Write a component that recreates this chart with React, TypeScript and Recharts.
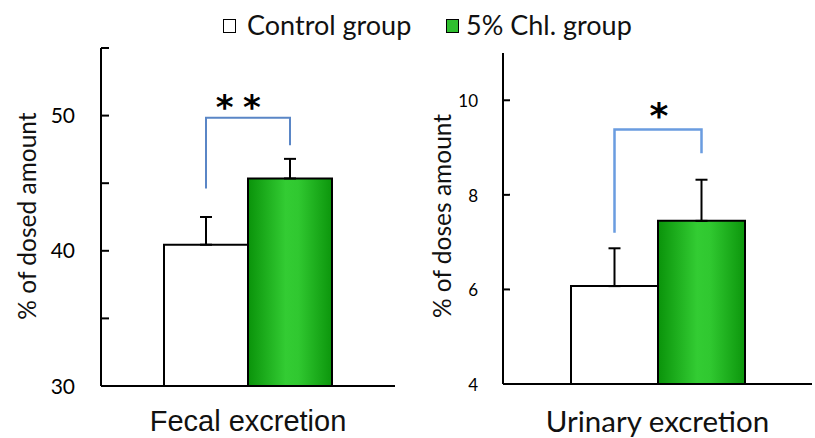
import React from 'react';
import { Bar, BarChart, ErrorBar, LabelList, XAxis, YAxis } from 'recharts';

// group names (legend)
const groups = ['Control group', '5% Chl. group'];

// fecal excretion panel
const fecalCategory = 'Fecal excretion';
const fecalMeans = [40.45, 45.35];
const fecalErrors = [2.05, 1.45];
const fecalDomain = [30, 55];
const fecalTicks = [30, 35, 40, 45, 50, 55];
const fecalLabelled = [30, 40, 50];
const fecalBracket = [44.6, 49.85, 47.8];
const fecalStarLevel = 49.76;
const fecalStars = '**';

// urinary excretion panel
const urinaryCategory = 'Urinary excretion';
const urinaryMeans = [6.07, 7.45];
const urinaryErrors = [0.8, 0.87];
const urinaryDomain = [4, 11];
const urinaryTicks = [4, 6, 8, 10];
const urinaryLabelled = [4, 6, 8, 10];
const urinaryBracket = [7.2, 9.38, 8.88];
const urinaryStarLevel = 9.42;
const urinaryStars = '*';

const LATO = 'Lato, sans-serif';
const ARIAL = '"Liberation Sans", Arial, sans-serif';

const toRow = (name: string, means: number[], errs: number[]) => [
  {
    name,
    control: means[0],
    chl: means[1],
    controlErr: [0, errs[0]],
    chlErr: [0, errs[1]],
  },
];

const makeTick =
  (lo: number, labelled: number[], tickLen: number, gap: number, fontSize: number, dy: number) =>
  (props: any) => {
    const { x, y, payload } = props;
    const v = payload.value;
    return (
      <g>
        {v !== lo && <line x1={x} x2={x + tickLen} y1={y} y2={y} stroke="#000" strokeWidth={2} />}
        {labelled.includes(v) && (
          <text x={x - gap} y={y + dy} textAnchor="end" fontFamily={LATO} fontSize={fontSize} fill="#000">
            {v}
          </text>
        )}
      </g>
    );
  };

// bracket + stars drawn from the green bar's own geometry
const makeBracket =
  (
    means: number[],
    lo: number,
    bracket: number[],
    starLevel: number,
    stars: string,
    color: string,
    sw: number,
    starSize: number,
    spacing: number,
    dx: number
  ) =>
  (props: any) => {
    const vb = props.viewBox ?? props;
    const { x, y, width, height } = vb;
    if (height == null || width == null) return null;
    const base = y + height;
    const k = height / (means[1] - lo);
    const py = (v: number) => base - (v - lo) * k;
    const xl = x - width / 2;
    const xr = x + width / 2;
    return (
      <g>
        <polyline
          points={`${xl},${py(bracket[0])} ${xl},${py(bracket[1])} ${xr},${py(bracket[1])} ${xr},${py(bracket[2])}`}
          fill="none"
          stroke={color}
          strokeWidth={sw}
        />
        <text
          x={(xl + xr) / 2 + dx}
          y={py(starLevel)}
          textAnchor="middle"
          fontFamily='"DejaVu Sans", sans-serif'
          fontWeight="bold"
          fontSize={starSize}
          letterSpacing={spacing}
          fill="#000"
        >
          {stars}
        </text>
      </g>
    );
  };

const GreenGradient = ({ id }: { id: string }) => (
  <defs>
    <linearGradient id={id} x1="0" y1="0" x2="1" y2="0">
      <stop offset="0%" stopColor="#0a930a" />
      <stop offset="45%" stopColor="#33cc33" />
      <stop offset="60%" stopColor="#30c830" />
      <stop offset="100%" stopColor="#0c960c" />
    </linearGradient>
  </defs>
);

const fecalData = toRow(fecalCategory, fecalMeans, fecalErrors);
const urinaryData = toRow(urinaryCategory, urinaryMeans, urinaryErrors);

const legendText: React.CSSProperties = {
  position: 'absolute',
  top: 10.5,
  fontFamily: LATO,
  fontSize: 27,
  lineHeight: '27px',
  whiteSpace: 'nowrap',
  color: '#111',
};

const App = () => {
  return (
    <div style={{ position: 'absolute', left: 0, top: 0, width: 815, height: 438, background: '#fff' }}>
      {/* legend */}
      <div style={{ position: 'absolute', left: 222.5, top: 19, width: 11, height: 12, border: '1.5px solid #000', background: '#fff' }} />
      <span style={{ ...legendText, left: 247 }}>{groups[0]}</span>
      <div style={{ position: 'absolute', left: 446, top: 19, width: 11, height: 12, border: '1.5px solid #000', background: '#2fbf2f' }} />
      <span style={{ ...legendText, left: 466 }}>{groups[1]}</span>

      {/* fecal panel */}
      <div style={{ position: 'absolute', left: 0, top: 0 }}>
        <BarChart width={410} height={438} data={fecalData} margin={{ top: 48, right: 15, bottom: 0, left: 0 }} barGap={0} barSize={84}>
          <GreenGradient id="greenFecal" />
          <XAxis
            dataKey="name"
            height={52}
            tick={false}
            tickLine={false}
            axisLine={{ stroke: '#000', strokeWidth: 2 }}
            label={{
              content: (p: any) => {
                const vb = p.viewBox;
                return (
                  <text x={vb.x + vb.width / 2} y={431} textAnchor="middle" fontFamily={ARIAL} fontSize={29} fill="#111">
                    {fecalCategory}
                  </text>
                );
              },
            }}
          />
          <YAxis
            width={101}
            domain={fecalDomain}
            ticks={fecalTicks}
            allowDataOverflow
            tickSize={0}
            tickMargin={0}
            tickLine={false}
            axisLine={{ stroke: '#000', strokeWidth: 2 }}
            tick={makeTick(fecalDomain[0], fecalLabelled, 8, 26, 21, 7.5)}
            label={{
              content: () => (
                <text x={36} y={216} transform="rotate(-90, 36, 216)" textAnchor="middle" fontFamily={LATO} fontSize={24.5} fill="#111">
                  % of dosed amount
                </text>
              ),
            }}
          />
          <Bar dataKey="control" fill="#fff" stroke="#000" strokeWidth={2} isAnimationActive={false}>
            <ErrorBar dataKey="controlErr" direction="y" width={6} stroke="#000" strokeWidth={2} />
          </Bar>
          <Bar dataKey="chl" fill="url(#greenFecal)" stroke="#000" strokeWidth={2} isAnimationActive={false}>
            <ErrorBar dataKey="chlErr" direction="y" width={6} stroke="#000" strokeWidth={2} />
            <LabelList
              dataKey="chl"
              content={makeBracket(fecalMeans, fecalDomain[0], fecalBracket, fecalStarLevel, fecalStars, '#5a86c6', 2, 34, 9.5, -5)}
            />
          </Bar>
        </BarChart>
      </div>

      {/* urinary panel */}
      <div style={{ position: 'absolute', left: 405, top: 0 }}>
        <BarChart width={410} height={438} data={urinaryData} margin={{ top: 53, right: 3, bottom: 0, left: 0 }} barGap={0} barSize={87}>
          <GreenGradient id="greenUrinary" />
          <XAxis
            dataKey="name"
            height={54}
            tick={false}
            tickLine={false}
            axisLine={{ stroke: '#000', strokeWidth: 2 }}
            label={{
              content: (p: any) => {
                const vb = p.viewBox;
                return (
                  <text x={vb.x + vb.width / 2} y={431.5} textAnchor="middle" fontFamily={LATO} fontSize={29.5} fill="#111">
                    {urinaryCategory}
                  </text>
                );
              },
            }}
          />
          <YAxis
            width={98}
            domain={urinaryDomain}
            ticks={urinaryTicks}
            allowDataOverflow
            tickSize={0}
            tickMargin={0}
            tickLine={false}
            axisLine={{ stroke: '#000', strokeWidth: 2 }}
            tick={makeTick(urinaryDomain[0], urinaryLabelled, 7, 25, 17, 7)}
            label={{
              content: () => (
                <text x={45.5} y={216} transform="rotate(-90, 45.5, 216)" textAnchor="middle" fontFamily={LATO} fontSize={24.5} fill="#111">
                  % of doses amount
                </text>
              ),
            }}
          />
          <Bar dataKey="control" fill="#fff" stroke="#000" strokeWidth={2} isAnimationActive={false}>
            <ErrorBar dataKey="controlErr" direction="y" width={6} stroke="#000" strokeWidth={2} />
          </Bar>
          <Bar dataKey="chl" fill="url(#greenUrinary)" stroke="#000" strokeWidth={2} isAnimationActive={false}>
            <ErrorBar dataKey="chlErr" direction="y" width={6} stroke="#000" strokeWidth={2} />
            <LabelList
              dataKey="chl"
              content={makeBracket(urinaryMeans, urinaryDomain[0], urinaryBracket, urinaryStarLevel, urinaryStars, '#6a9ce0', 2.5, 36, 0, 1)}
            />
          </Bar>
        </BarChart>
      </div>
    </div>
  );
};

export default App;
